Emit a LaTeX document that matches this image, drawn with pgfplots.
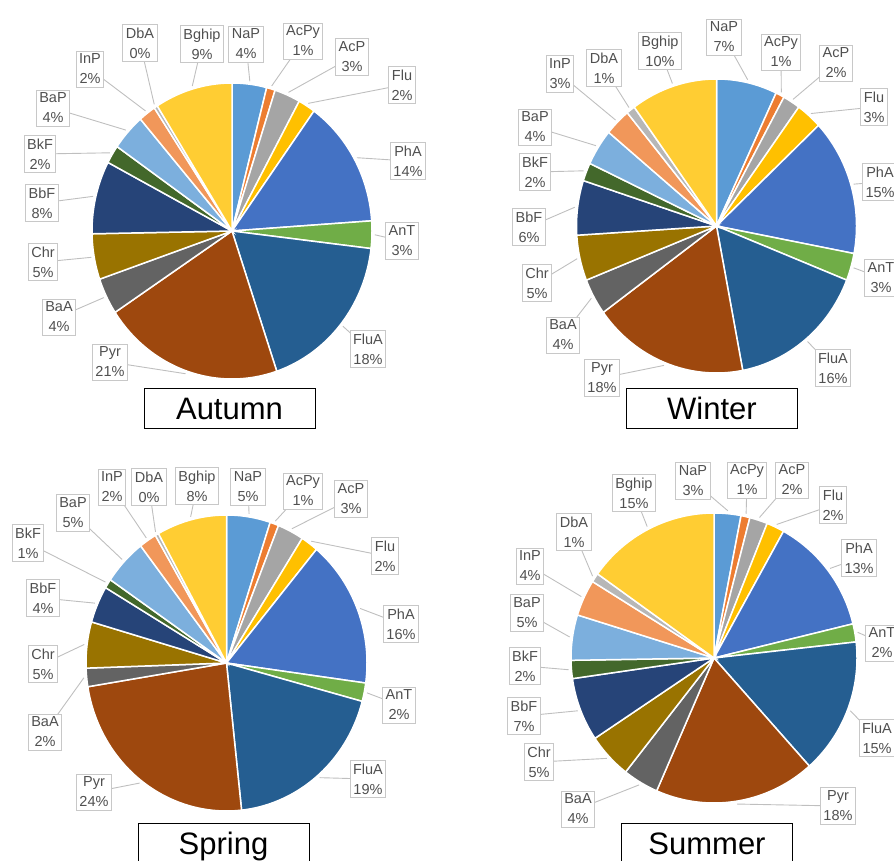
\documentclass[border=0pt]{standalone}
\usepackage{pgfplots}
\pgfplotsset{compat=1.18}
\usepackage{pgfplotstable}
\usepackage{fontspec}
\setmainfont{Liberation Sans}

\definecolor{pahNaP}{HTML}{5B9BD5}
\definecolor{pahAcPy}{HTML}{ED7D31}
\definecolor{pahAcP}{HTML}{A5A5A5}
\definecolor{pahFlu}{HTML}{FFC000}
\definecolor{pahPhA}{HTML}{4472C4}
\definecolor{pahAnT}{HTML}{70AD47}
\definecolor{pahFluA}{HTML}{255E91}
\definecolor{pahPyr}{HTML}{9E480E}
\definecolor{pahBaA}{HTML}{636363}
\definecolor{pahChr}{HTML}{997300}
\definecolor{pahBbF}{HTML}{264478}
\definecolor{pahBkF}{HTML}{43682B}
\definecolor{pahBaP}{HTML}{7CAFDD}
\definecolor{pahInP}{HTML}{F1975A}
\definecolor{pahDbA}{HTML}{B7B7B7}
\definecolor{pahBghip}{HTML}{FFCD33}
\definecolor{lblborder}{HTML}{C8C8C8}
\definecolor{lbltext}{HTML}{505050}
\definecolor{leadercol}{HTML}{BFBFBF}

\tikzset{
  lbl/.style={draw=lblborder, line width=0.9pt, fill=white, text=lbltext, align=center,
    inner xsep=3pt, inner ysep=3pt, font=\fontsize{14.5}{20}\selectfont},
  leader/.style={draw=leadercol, line width=0.9pt},
  ttl/.style={draw=black, line width=1pt, fill=white, minimum width=171pt, minimum height=40pt,
    inner sep=0pt, text height=22pt, text depth=0pt, font=\fontsize{31}{36}\selectfont}
}

% name  val (wedge)  lab (shown %)  lx ly (label centre, px)
\pgfplotstableread{
name val lab lx ly
NaP 4 4 246 44
AcPy 1 1 303 41
AcP 3 3 352 57
Flu 2 2 402 85
PhA 14 14 408 161
AnT 3 3 402 241
FluA 18 18 368 349
Pyr 21 21 110 362
BaA 4 4 59 317
Chr 5 5 43 262
BbF 8 8 42 203
BkF 2 2 40 154
BaP 4 4 53 108
InP 2 2 90 69
DbA 0.4 0 140 43
Bghip 9 9 202 44
}\autumn

\pgfplotstableread{
name val lab lx ly
NaP 7 7 724 37
AcPy 1 1 781 52
AcP 2 2 836 63
Flu 3 3 874 107
PhA 15 15 880 182
AnT 3 3 881 278
FluA 16 16 833 368
Pyr 18 18 602 378
BaA 4 4 563 335
Chr 5 5 537 283
BbF 6 6 529 227
BkF 2 2 535 172
BaP 4 4 535 127
InP 3 3 560 74
DbA 1 1 604 68
Bghip 10 10 660 51
}\winter

\pgfplotstableread{
name val lab lx ly
NaP 5 5 248 487
AcPy 1 1 303 491
AcP 3 3 351 499
Flu 2 2 385 556
PhA 16 16 401 624
AnT 2 2 399 705
FluA 19 19 368 779
Pyr 24 24 94 792
BaA 2 2 45 732
Chr 5 5 43 664
BbF 4 4 43 598
BkF 1 1 28 543
BaP 5 5 73 513
InP 2 2 112 487
DbA 0.4 0 149 487
Bghip 8 8 197 486
}\spring

\pgfplotstableread{
name val lab lx ly
NaP 3 3 693 481
AcPy 1 1 747 480
AcP 2 2 792 480
Flu 2 2 833 505
PhA 13 13 859 558
AnT 2 2 882 643
FluA 15 15 877 738
Pyr 18 18 838 806
BaA 4 4 578 809
Chr 5 5 539 762
BbF 7 7 524 716
BkF 2 2 525 666
BaP 5 5 527 613
InP 4 4 530 566
DbA 1 1 574 532
Bghip 15 15 634 493
}\summer

% #1 table, #2 cx, #3 cy, #4 rx, #5 ry
\newcommand{\drawpie}[5]{%
  \pgfplotstablegetrowsof{#1}%
  \pgfmathtruncatemacro\nlast{\pgfplotsretval-1}%
  \def\wtot{0}%
  \pgfplotsforeachungrouped \i in {0,...,\nlast}{%
    \pgfplotstablegetelem{\i}{val}\of{#1}%
    \pgfmathsetmacro\wtot{\wtot+\pgfplotsretval}%
  }%
  \def\wacc{0}%
  \pgfplotsforeachungrouped \i in {0,...,\nlast}{%
    \pgfplotstablegetelem{\i}{name}\of{#1}\let\wname\pgfplotsretval
    \pgfplotstablegetelem{\i}{val}\of{#1}\let\wval\pgfplotsretval
    \pgfmathsetmacro\wa{\wacc/\wtot*360}%
    \pgfmathsetmacro\wacc{\wacc+\wval}%
    \pgfmathsetmacro\wb{\wacc/\wtot*360}%
    \edef\cmd{\noexpand\addplot[draw=white, line width=1.5pt, fill=pah\wname,
      domain=\wa:\wb, samples=60, variable=\noexpand\t]
      ({#2+#4*sin(\noexpand\t)},{#3-#5*cos(\noexpand\t)}) -- (axis cs:#2,#3) -- cycle;}%
    \cmd
  }%
  \def\wacc{0}%
  \pgfplotsforeachungrouped \i in {0,...,\nlast}{%
    \pgfplotstablegetelem{\i}{name}\of{#1}\let\wname\pgfplotsretval
    \pgfplotstablegetelem{\i}{val}\of{#1}\let\wval\pgfplotsretval
    \pgfplotstablegetelem{\i}{lab}\of{#1}\let\wlab\pgfplotsretval
    \pgfplotstablegetelem{\i}{lx}\of{#1}\let\wlx\pgfplotsretval
    \pgfplotstablegetelem{\i}{ly}\of{#1}\let\wly\pgfplotsretval
    \pgfmathsetmacro\wa{\wacc/\wtot*360}%
    \pgfmathsetmacro\wacc{\wacc+\wval}%
    \pgfmathsetmacro\wb{\wacc/\wtot*360}%
    \pgfmathsetmacro\wm{(\wa+\wb)/2}%
    \pgfmathsetmacro\px{#2+1.02*#4*sin(\wm)}%
    \pgfmathsetmacro\py{#3-1.02*#5*cos(\wm)}%
    \edef\cmd{\noexpand\draw[leader] (axis cs:\px,\py) -- (axis cs:\wlx,\wly)
      node[lbl] {\wname\noexpand\\\wlab\noexpand\%};}%
    \cmd
  }%
}

\begin{document}
\begin{tikzpicture}
\begin{axis}[scale only axis, width=894pt, height=861pt,
  xmin=0, xmax=894, ymin=0, ymax=861, y dir=reverse,
  hide axis, clip=true]
\drawpie{\autumn}{232}{231}{140}{148}
\drawpie{\winter}{716.5}{226}{140}{147}
\drawpie{\spring}{226.5}{663}{140.5}{148}
\drawpie{\summer}{714}{658}{143}{145}
\node[ttl] at (axis cs:229.5,408) {Autumn};
\node[ttl] at (axis cs:712,408.5) {Winter};
\node[ttl] at (axis cs:223.5,843) {Spring};
\node[ttl] at (axis cs:707,843) {Summer};
\end{axis}
\pgfresetboundingbox
\path[use as bounding box] (current axis.south west) rectangle (current axis.north east);
\end{tikzpicture}
\end{document}
